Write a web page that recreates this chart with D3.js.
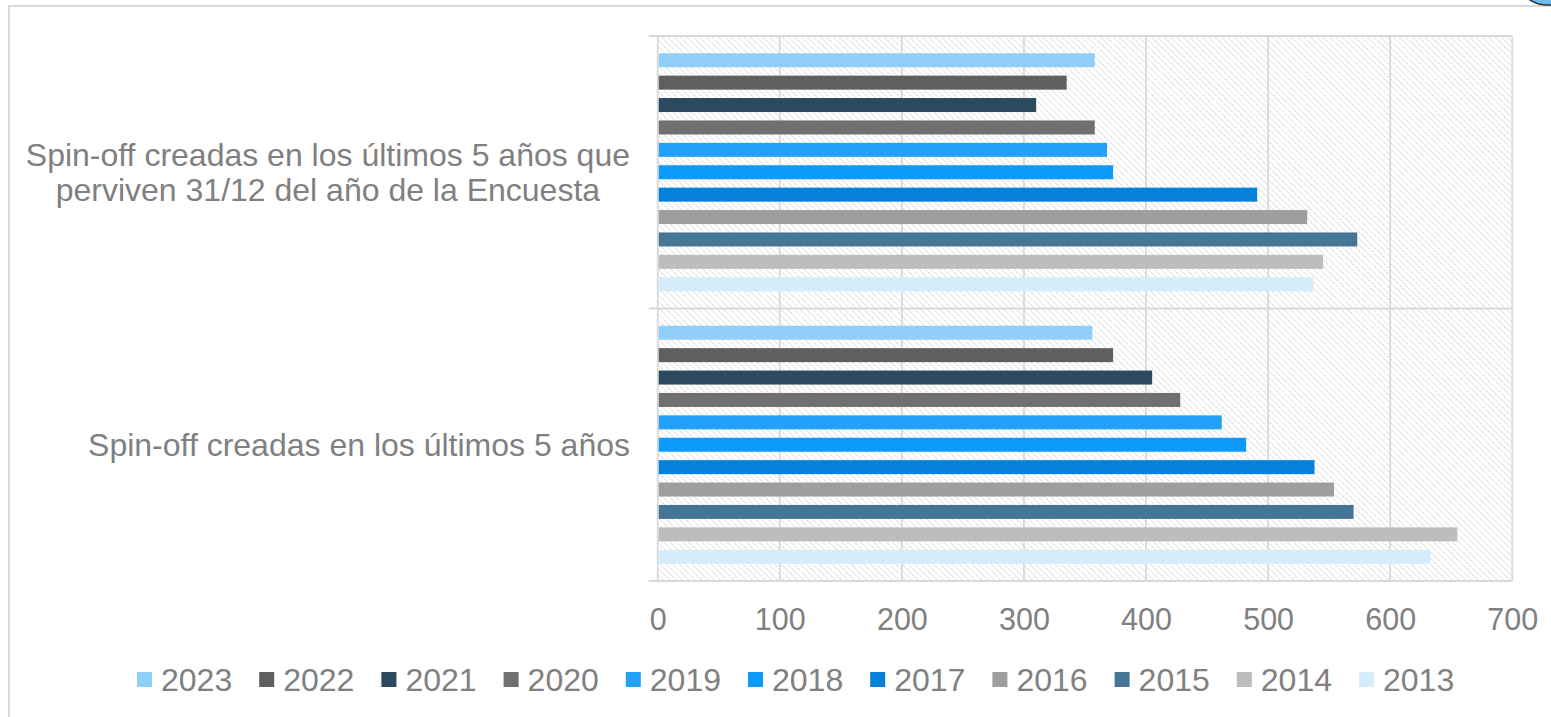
<!DOCTYPE html>
<html><head><meta charset="utf-8">
<script src="https://cdn.jsdelivr.net/npm/d3@7"></script>
<style>body{margin:0;background:#fff;} svg{display:block;}</style>
</head><body>
<svg id="c" width="1551" height="717"></svg>
<script>
const categories = [
  ["Spin-off creadas en los últimos 5 años que", "perviven 31/12 del año de la Encuesta"],
  ["Spin-off creadas en los últimos 5 años"]
];
const categoryKeys = ["perviven", "creadas"];
const years = ["2023","2022","2021","2020","2019","2018","2017","2016","2015","2014","2013"];
const valuesPerviven = [358, 335, 310, 358, 368, 373, 491, 532, 573, 545, 537];
const valuesCreadas  = [356, 373, 405, 428, 462, 482, 538, 554, 570, 655, 633];
const colors = ["#91CFFB","#5F5F5F","#2C4A5E","#707070","#21A2F8","#0E9AFA","#0681DA","#9E9E9E","#467695","#BDBDBD","#D6ECFA"];
const xTicks = [0,100,200,300,400,500,600,700];

const svg = d3.select("#c");
const font = "'Liberation Sans', Arial, sans-serif";
const txt = "#808080";
const L = 657.7, R = 1512.3, T = 36, B = 581;

// outer frame
svg.append("rect").attr("x",9).attr("y",6).attr("width",1600).attr("height",800)
  .attr("fill","none").attr("stroke","#d9d9d9").attr("stroke-width",2);
// corner icon fragment
svg.append("ellipse").attr("cx",1548).attr("cy",-10).attr("rx",24).attr("ry",15)
  .attr("fill","#6CBCF3").attr("stroke","#333").attr("stroke-width",1.5);

const defs = svg.append("defs");
const pat = defs.append("pattern").attr("id","hatch").attr("patternUnits","userSpaceOnUse")
  .attr("width",4.5).attr("height",4.5).attr("patternTransform","rotate(-45)");
pat.append("rect").attr("width",4.5).attr("height",4.5).attr("fill","#fff");
pat.append("line").attr("x1",0).attr("y1",0).attr("x2",0).attr("y2",4.5)
  .attr("stroke","#cdcdcd").attr("stroke-width",1.5).attr("stroke-dasharray","1.6,0.9");

const x = d3.scaleLinear().domain([0,700]).range([L,R]);
const y0 = d3.scaleBand().domain(categoryKeys).range([T,B]).padding(0);
const y1 = d3.scaleBand().domain(years).range([0,y0.bandwidth()]).paddingInner(0.375).paddingOuter(0.77);

svg.append("rect").attr("x",L).attr("y",T).attr("width",R-L).attr("height",B-T).attr("fill","url(#hatch)");

// gridlines
svg.append("g").selectAll("line").data(xTicks).join("line")
  .attr("x1",d=>x(d)).attr("x2",d=>x(d)).attr("y1",T).attr("y2",B)
  .attr("stroke","#d9d9d9").attr("stroke-width",1.8);
// category divider / ticks
svg.append("g").selectAll("line").data([T, y0("creadas"), B]).join("line")
  .attr("x1",L-9).attr("x2",R).attr("y1",d=>d).attr("y2",d=>d)
  .attr("stroke","#d9d9d9").attr("stroke-width",1.8);

const series = [valuesPerviven, valuesCreadas];
categoryKeys.forEach((k,ci)=>{
  svg.append("g").selectAll("rect").data(years).join("rect")
    .attr("x",x(0)+1).attr("y",(d)=>y0(k)+y1(d))
    .attr("width",(d,i)=>x(series[ci][i])-x(0)-1).attr("height",y1.bandwidth())
    .attr("fill",(d,i)=>colors[i]);
});

// x axis labels
const xa = d3.axisBottom(x).tickValues(xTicks).tickSize(0).tickPadding(0);
const gx = svg.append("g").attr("transform",`translate(0,${B+49})`).call(xa);
gx.select(".domain").remove();
gx.selectAll("text").attr("font-family",font).attr("font-size",30.5).attr("fill",txt).attr("dy",0);

// category labels
const rightEdge = 630;
categories.forEach((lines,ci)=>{
  const cy = y0(categoryKeys[ci]) + y0.bandwidth()/2;
  const g = svg.append("g");
  const lh = 35;
  const ts = lines.map((ln,li)=> g.append("text").text(ln)
    .attr("font-family",font).attr("font-size",32).attr("fill",txt)
    .attr("text-anchor","middle")
    .attr("y", cy + (li-(lines.length-1)/2)*lh + 11));
  const w = d3.max(ts, t=>t.node().getComputedTextLength());
  ts.forEach(t=>t.attr("x", rightEdge - w/2));
});

// legend
const lg = svg.append("g");
const pitch = 122.2;
years.forEach((yr,i)=>{
  const it = lg.append("g").attr("transform",`translate(${i*pitch},0)`);
  it.append("rect").attr("x",0).attr("y",-8).attr("width",15).attr("height",15).attr("fill",colors[i]);
  it.append("text").text(yr).attr("x",24).attr("y",11)
    .attr("font-family",font).attr("font-size",32).attr("fill",txt);
});
lg.attr("transform",`translate(${137},680)`);
</script>
</body></html>
